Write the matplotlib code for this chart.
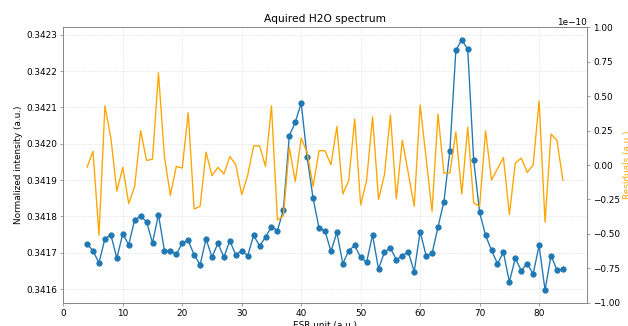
import numpy as np
import matplotlib
matplotlib.use("Agg")
import matplotlib.pyplot as plt

esr_unit = list(range(4, 85))

intensity = [
    0.341725, 0.341705, 0.341672, 0.341739, 0.341749, 0.341685, 0.341752, 0.341722,
    0.341791, 0.341800, 0.341786, 0.341727, 0.341805, 0.341706, 0.341706, 0.341696,
    0.341726, 0.341734, 0.341694, 0.341667, 0.341738, 0.341688, 0.341726, 0.341688,
    0.341733, 0.341694, 0.341706, 0.341692, 0.341748, 0.341719, 0.341743, 0.341772,
    0.341761, 0.341818, 0.342022, 0.342059, 0.342112, 0.341963, 0.341850, 0.341768,
    0.341760, 0.341704, 0.341756, 0.341670, 0.341706, 0.341720, 0.341687, 0.341674,
    0.341749, 0.341655, 0.341702, 0.341713, 0.341681, 0.341692, 0.341702, 0.341648,
    0.341758, 0.341692, 0.341698, 0.341771, 0.341841, 0.341981, 0.342257, 0.342286,
    0.342260, 0.341955, 0.341811, 0.341748, 0.341707, 0.341670, 0.341701, 0.341620,
    0.341685, 0.341651, 0.341670, 0.341642, 0.341720, 0.341597, 0.341692, 0.341653,
    0.341654,
]

# residuals, in units of 1e-10
residuals = [
    -0.015, 0.10, -0.51, 0.43, 0.196, -0.19, -0.017, -0.28, -0.155, 0.25,
    0.033, 0.043, 0.67, 0.062, -0.22, -0.01, -0.022, 0.38, -0.32, -0.30,
    0.094, -0.078, -0.017, -0.065, 0.062, 0.002, -0.215, -0.075, 0.14, 0.14,
    -0.01, 0.43, -0.40, -0.37, 0.128, -0.12, 0.196, 0.09, -0.155, 0.104,
    0.104, 0.002, 0.28, -0.21, -0.11, 0.335, -0.29, -0.11, 0.35, -0.25,
    -0.07, 0.365, -0.245, 0.18, -0.058, -0.30, 0.437, 0.05, -0.336, 0.37,
    -0.058, -0.058, 0.24, -0.21, 0.275, -0.275, -0.30, 0.25, -0.11, -0.027,
    0.055, -0.36, 0.014, 0.05, -0.053, 0.0, 0.466, -0.415, 0.225, 0.18,
    -0.11,
]

DPI = 64
fig = plt.figure(figsize=(628 / DPI, 326 / DPI), dpi=DPI)
ax = fig.add_axes([0.1008, 0.0715, 0.8334, 0.8445])

ax.plot(esr_unit, intensity, marker="o", color="tab:blue")
ax.set_xlabel("ESR unit (a.u.)")
ax.set_ylabel("Normalized intensity (a.u.)")
ax.set_title("Aquired H2O spectrum")
ax.grid(True, linestyle=":", color="lightgray")

ax2 = ax.twinx()
ax2.plot(esr_unit, np.array(residuals) * 1e-10, color="orange", lw=1.5)
ax2.set_ylim(-1e-10, 1e-10)
ax2.set_ylabel("Residuals (a.u.)", color="orange")

for a in (ax, ax2):
    for s in a.spines.values():
        s.set_color("gray")
    a.tick_params(color="gray")

fig.savefig("out.png", dpi=DPI)
